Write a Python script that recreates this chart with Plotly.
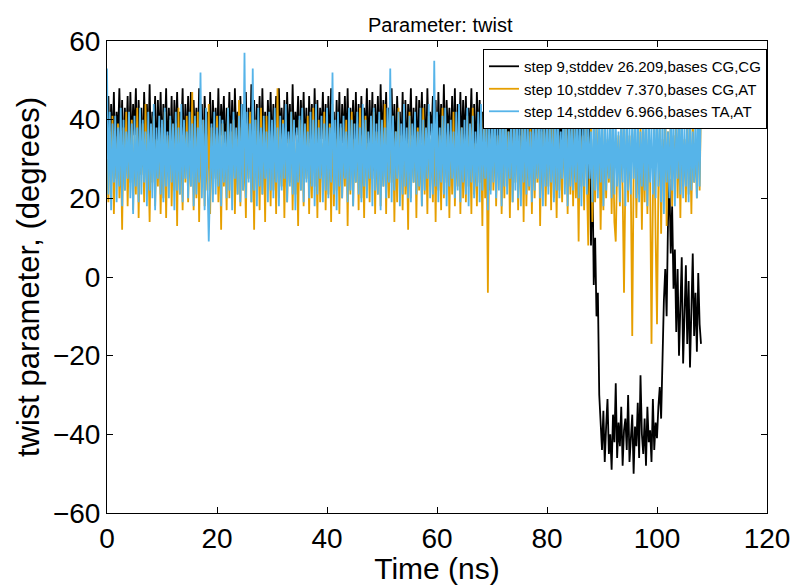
import plotly.graph_objects as go

# sampling interval of the trajectory (ns)
time_step = 0.25

# step 9 (bases CG,CG)
step9 = [
    38, 46, 30, 44, 33, 47, 29, 42, 35, 48, 31, 45, 27, 43, 34, 46, 30, 47, 32, 44,
    36, 48, 29, 45, 33, 43, 28, 47, 35, 44, 31, 49, 30, 42, 34, 46, 27, 45, 33, 47,
    30, 44, 35, 48, 29, 43, 32, 46, 28, 45, 34, 47, 31, 42, 36, 48, 29, 44, 33, 46,
    31, 47, 28, 45, 34, 43, 30, 48, 33, 44, 27, 46, 35, 42, 31, 47, 29, 45, 34, 43,
    32, 48, 30, 44, 36, 46, 28, 43, 33, 47, 31, 45, 29, 48, 35, 42, 30, 46, 32, 44,
    34, 47, 29, 43, 31, 49, 33, 45, 28, 44, 35, 46, 30, 48, 32, 42, 27, 45, 34, 47,
    30, 44, 33, 46, 29, 48, 35, 43, 31, 45, 28, 47, 34, 44, 30, 49, 32, 42, 36, 46,
    29, 45, 33, 47, 31, 43, 27, 46, 34, 44, 30, 48, 32, 45, 28, 43, 35, 47, 31, 44,
    33, 46, 30, 48, 35, 42, 29, 45, 32, 47, 28, 44, 34, 46, 31, 48, 29, 43, 35, 45,
    31, 47, 28, 44, 33, 46, 30, 43, 35, 48, 29, 45, 32, 47, 27, 44, 34, 46, 30, 49,
    32, 45, 34, 47, 29, 43, 31, 48, 33, 44, 28, 46, 35, 42, 30, 47, 32, 45, 29, 44,
    35, 48, 30, 43, 32, 46, 28, 45, 34, 47, 31, 44, 29, 48, 33, 42, 36, 46, 30, 45,
    28, 47, 33, 44, 31, 49, 29, 45, 35, 43, 30, 46, 32, 48, 27, 44, 34, 47, 31, 45,
    33, 46, 29, 43, 35, 48, 31, 44, 28, 47, 34, 45, 30, 42, 32, 46, 29, 48, 35, 44,
    30, 45, 33, 47, 28, 43, 32, 46, 35, 44, 29, 48, 31, 45, 34, 42, 30, 47, 33, 44,
    29, 46, 34, 48, 31, 43, 28, 45, 33, 47, 30, 44, 35, 46, 29, 48, 32, 43, 34, 45,
    31, 47, 28, 44, 33, 46, 30, 48, 35, 43, 29, 45, 32, 47, 30, 44, 34, 46, 31, 42,
    33, 45, 29, 43, 35, 41, 30, 44,
    30, 42, 20, 38, 8, 30, -2, 10,
    -10, -4, -30, -38,
    -44, -34, -47, -38, -31, -45, -40, -49, -35, -42,
    -27, -46, -37, -43, -33, -48, -39, -36, -44, -30,
    -47, -41, -35, -50, -38, -43, -32, -46, -25, -40,
    -45, -36, -48, -33, -42, -39, -47, -31, -44, -37,
    -41, -33, -28, -36,
    -18, -6, 2, -10,
    14, 25, 6, 18,
    -3, 7, -14, 2, -20, -6, 5, -22, -9, 3, -17, -1, -23, -8, 6, -15, -4, -19, 1, -12, -17,
]

# step 10 (bases CG,AT)
step10 = [
    30, 19, 37, 23, 41, 16, 34, 25, 39, 20, 35, 12, 38, 22, 42, 18, 33, 24, 40, 17,
    36, 21, 43, 15, 34, 26, 39, 19, 44, 22, 31, 14, 37, 24, 41, 18, 35, 23, 38, 16,
    33, 20, 42, 15, 36, 25, 40, 18, 34, 22, 39, 13, 43, 21, 35, 17, 38, 24, 41, 19,
    34, 23, 47, 17, 37, 20, 42, 14, 36, 24, 40, 18, 33, 22, 44, 16, 38, 21, 35, 25,
    41, 19, 36, 12, 39, 23, 34, 17, 43, 20, 37, 24, 40, 16, 35, 21, 45, 18, 38, 22,
    33, 15, 39, 25, 42, 19, 36, 12, 40, 23, 34, 17, 43, 21, 37, 14, 41, 24, 35, 18,
    39, 22, 36, 16, 48, 20, 33, 23, 40, 15, 38, 19, 35, 24, 42, 17, 37, 21, 34, 13,
    40, 22, 39, 18, 36, 25, 41, 16, 35, 20, 43, 23, 37, 15, 40, 19, 34, 24, 42, 17,
    36, 21, 39, 14, 44, 18, 35, 22, 41, 16, 38, 20, 34, 23, 40, 13, 37, 21, 42, 18,
    35, 24, 39, 17, 43, 20, 36, 15, 41, 22, 34, 19, 38, 25, 42, 16, 37, 21, 40, 18,
    33, 23, 44, 16, 38, 20, 35, 24, 41, 14, 37, 19, 43, 22, 36, 17, 39, 21, 34, 12,
    42, 20, 36, 24, 40, 15, 38, 22, 34, 18, 43, 21, 37, 16, 41, 23, 35, 19, 39, 14,
    40, 22, 36, 17, 43, 20, 35, 24, 39, 15, 37, 21, 42, 18, 34, 23, 41, 16, 38, 20,
    35, 19, 41, 23, 37, 16, 43, 21, 34, 18, 39, 24, 36, 13, 42, 20, 38, -4, 35, 22,
    38, 22, 39, 18, 36, 25, 41, 16, 35, 20, 43, 23, 37, 15, 40, 19, 34, 24, 42, 17,
    36, 21, 40, 14, 44, 18, 35, 22, 41, 16, 38, 20, 34, 24, 42, 13, 37, 21, 39, 18,
    35, 23, 41, 17, 43, 20, 36, 15, 40, 22, 34, 19, 38, 25, 42, 16, 37, 21, 39, 18,
    38, 20, 34, 9, 40, 23, 36, 17,
    42, 21, 8, 30, 38, 14, 35, 19,
    41, 22, 36, 12,
    33, 17, 39, 20, 35, 24, 40, 16, 37, 14,
    9, 28, 36, 18, 41, 22, -4, 25, 38, 19,
    36, 22, -15, 27, 40, 15, 34, 21, 39, 12,
    37, 19, 42, 16, 35, 24, -17, 20, 38, 10,
    -12, 23, 38, 11,
    35, 26, 43, 13,
    37, 24, 40, 18,
    36, 25, 42, 20, 38, 15, 41, 23, 35, 19, 43, 21, 37, 16, 40, 24, 34, 20, 44, 22, 45,
]

# step 14 (bases TA,AT)
step14 = [
    53, 21, 42, 17, 39, 24, 41, 19, 38, 23, 43, 18, 40, 22, 37, 25, 42, 20, 39, 16,
    41, 23, 38, 19, 43, 21, 40, 24, 37, 18, 42, 22, 39, 20, 44, 17, 38, 25, 41, 21,
    40, 19, 43, 23, 37, 20, 41, 24, 39, 17, 42, 22, 38, 21, 44, 19, 40, 25, 37, 20,
    42, 23, 39, 18, 41, 21, 38, 24, 52, 20, 40, 17, 43, 22, 9, 24, 39, 19, 42, 21,
    38, 23, 41, 18, 40, 24, 37, 20, 43, 22, 39, 17, 42, 25, 38, 21, 41, 19, 44, 22,
    57, 20, 42, 24, 39, 19, 53, 22, 40, 18, 43, 23, 38, 21, 41, 25, 37, 19, 42, 22,
    40, 20, 43, 24, 38, 18, 41, 22, 39, 25, 44, 19, 37, 23, 42, 21, 40, 17, 38, 24,
    41, 22, 43, 19, 39, 24, 37, 20, 42, 23, 40, 18, 44, 21, 38, 25, 41, 19, 39, 22,
    43, 20, 38, 24, 52, 21, 40, 17, 42, 23, 39, 20, 41, 25, 37, 19, 43, 22, 40, 18,
    39, 24, 42, 21, 38, 19, 44, 23, 40, 20, 37, 25, 41, 18, 43, 22, 39, 21, 42, 17,
    40, 23, 38, 20, 43, 24, 53, 19, 41, 22, 37, 25, 42, 18, 39, 21, 44, 23, 38, 20,
    41, 19, 39, 24, 42, 21, 37, 23, 43, 18, 40, 22, 38, 25, 44, 20, 39, 21, 55, 23,
    42, 19, 38, 24, 41, 21, 43, 18, 39, 23, 40, 25, 37, 20, 42, 22, 44, 19, 38, 24,
    40, 21, 43, 18, 39, 24, 41, 20, 37, 23, 42, 19, 44, 22, 38, 25, 40, 17, 42, 21,
    39, 24, 43, 20, 38, 22, 41, 18, 44, 23, 40, 21, 37, 25, 42, 19, 39, 22, 43, 20,
    41, 18, 38, 24, 42, 21, 40, 23, 37, 19, 43, 22, 39, 25, 41, 20, 44, 18, 38, 23,
    42, 21, 40, 24, 38, 19, 43, 22, 41, 20, 37, 25, 44, 21, 39, 18, 42, 23, 40, 22,
    39, 24, 43, 20, 41, 18, 38, 23,
    42, 21, 40, 25, 37, 19, 44, 22,
    39, 20, 42, 24,
    40, 18, 43, 22, 38, 25, 41, 20, 44, 21,
    39, 23, 37, 19, 42, 24, 40, 18, 43, 22,
    38, 21, 41, 25, 39, 20, 44, 19, 37, 23,
    42, 22, 40, 18, 43, 24, 38, 21, 41, 20,
    44, 23, 39, 19,
    42, 16, 40, 24,
    37, 20, 43, 22,
    41, 18, 39, 25, 42, 21, 44, 20, 38, 23, 40, 19, 43, 22, 37, 24, 41, 20, 45, 23, 47,
]

series_names = [
    "step 9,stddev 26.209,bases CG,CG",
    "step 10,stddev 7.370,bases CG,AT",
    "step 14,stddev 6.966,bases TA,AT",
]
series_colors = ["#000000", "#E69F00", "#56B4E9"]

fig = go.Figure()
for vals, name, col in zip([step9, step10, step14], series_names, series_colors):
    t = [i * time_step for i in range(len(vals))]
    fig.add_trace(go.Scatter(x=t, y=vals, mode="lines", name=name,
                             line=dict(color=col, width=1.8)))

axis_style = dict(showline=True, linecolor="black", linewidth=1, mirror="ticks",
                  ticks="inside", ticklen=6, tickcolor="black", showgrid=False,
                  zeroline=False, dtick=20, automargin=False,
                  tickfont=dict(size=28, color="black"))

fig.update_layout(
    width=799, height=585,
    font=dict(family="Liberation Sans, Arial, sans-serif", color="black"),
    paper_bgcolor="white", plot_bgcolor="white",
    margin=dict(l=107, r=32, t=41, b=72),
    title=dict(text="Parameter: twist", x=0.551, xanchor="center",
               y=0.957, yanchor="middle", font=dict(size=20), automargin=False),
    xaxis=dict(range=[0, 120], title=dict(text="Time (ns)", font=dict(size=30), standoff=2),
               **axis_style),
    yaxis=dict(range=[-60, 60], title=dict(text="twist parameter, (degrees)", font=dict(size=31), standoff=4),
               **axis_style),
    legend=dict(x=1.0, y=0.983, xanchor="right", yanchor="top",
                bgcolor="white", bordercolor="black", borderwidth=1,
                font=dict(size=15), tracegroupgap=0),
    showlegend=True,
)

# the page body has a default 8px margin; drop it so the figure sits at the window corner
fig.write_html("out.html", config={"displayModeBar": False},
               post_script="document.body.style.margin='0px';")
